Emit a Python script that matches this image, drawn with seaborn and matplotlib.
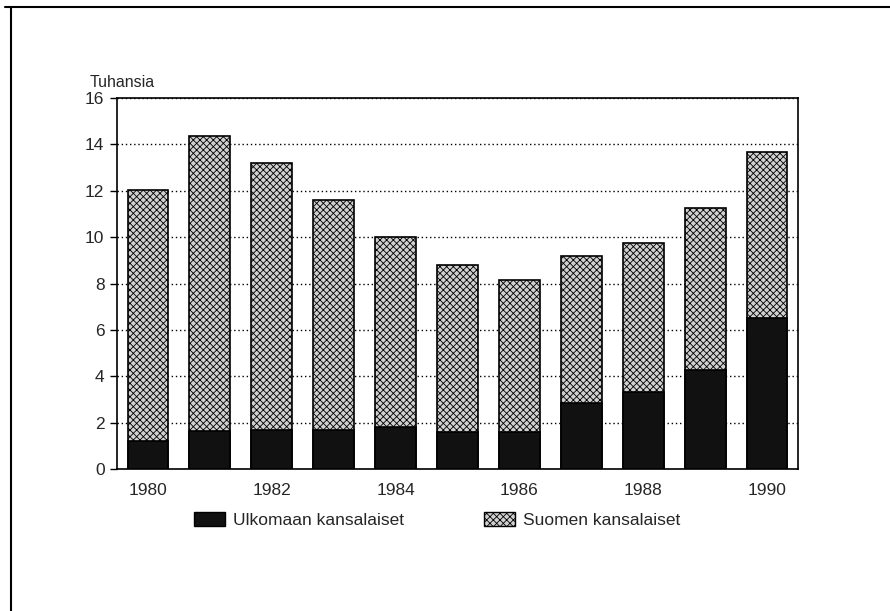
import pandas as pd
import matplotlib
matplotlib.use("Agg")
import matplotlib.pyplot as plt
import matplotlib.patches as mpatches
from matplotlib.lines import Line2D
import seaborn as sns

# Data (thousands)
years = ['1980', '1981', '1982', '1983', '1984', '1985',
         '1986', '1987', '1988', '1989', '1990']
ulkomaan = [1.2, 1.65, 1.7, 1.7, 1.8, 1.6, 1.6, 2.85, 3.3, 4.25, 6.5]
suomen = [10.85, 12.7, 11.5, 9.9, 8.2, 7.2, 6.55, 6.35, 6.45, 7.0, 7.15]
tick_years = ['1980', '1982', '1984', '1986', '1988', '1990']

df = pd.DataFrame({'Year': years, 'Ulkomaan': ulkomaan, 'Suomen': suomen})
df['Total'] = df['Ulkomaan'] + df['Suomen']

sns.set_style('white')
plt.rcParams['font.family'] = ['Liberation Sans', 'DejaVu Sans']
plt.rcParams['hatch.linewidth'] = 0.6
plt.rcParams['hatch.color'] = '#444444'

fig = plt.figure(figsize=(8.9, 6.11), dpi=100)
ax = fig.add_axes([117/890, 1-469/611, (798-117)/890, (469-98)/611])

light = '#d0d0d0'
dark = '#111111'

# stacked: total first (light), foreign on top (dark)
sns.barplot(x='Year', y='Total', data=df, color=light, width=0.66,
            edgecolor='black', linewidth=1.2, saturation=1, ax=ax, zorder=3)
for p in ax.patches:
    p.set_hatch('xxxxx')
sns.barplot(x='Year', y='Ulkomaan', data=df, color=dark, width=0.66,
            edgecolor='black', linewidth=1.2, saturation=1, ax=ax, zorder=4)

ax.set_xlim(-0.5, 10.5)
ax.set_ylim(0, 16)
ax.set_yticks(range(0, 17, 2))
ax.set_xticks([years.index(y) for y in tick_years])
ax.set_xticklabels(tick_years)
ax.set_xlabel('')
ax.set_ylabel('')
ax.tick_params(axis='y', length=5, width=1, color='black', labelsize=12.5, pad=4, left=True)
ax.tick_params(axis='x', length=0, labelsize=12.5, pad=10)
ax.yaxis.grid(True, linestyle=(0, (1, 2)), color='black', linewidth=1, zorder=0)
ax.set_axisbelow(True)
for s in ax.spines.values():
    s.set_color('black')
    s.set_linewidth(1.2)

fig.text(90/890, 1-87/611, 'Tuhansia', fontsize=11.5, ha='left', va='baseline')

handles = [mpatches.Patch(facecolor=dark, edgecolor='black', label='Ulkomaan kansalaiset'),
           mpatches.Patch(facecolor=light, edgecolor='black', hatch='xxxxx', label='Suomen kansalaiset')]
fig.legend(handles=handles, ncol=2, loc='center', bbox_to_anchor=(437/890, 1-520/611),
           frameon=False, fontsize=12.5, handlelength=1.8, handleheight=0.9,
           handletextpad=0.45, columnspacing=4.6)

# page frame lines
fig.add_artist(Line2D([5/890, 1], [1-7/611, 1-7/611], color='black', linewidth=1.5))
fig.add_artist(Line2D([11/890, 11/890], [0, 1-7/611], color='black', linewidth=1.5))

fig.savefig('out.png', dpi=100)
